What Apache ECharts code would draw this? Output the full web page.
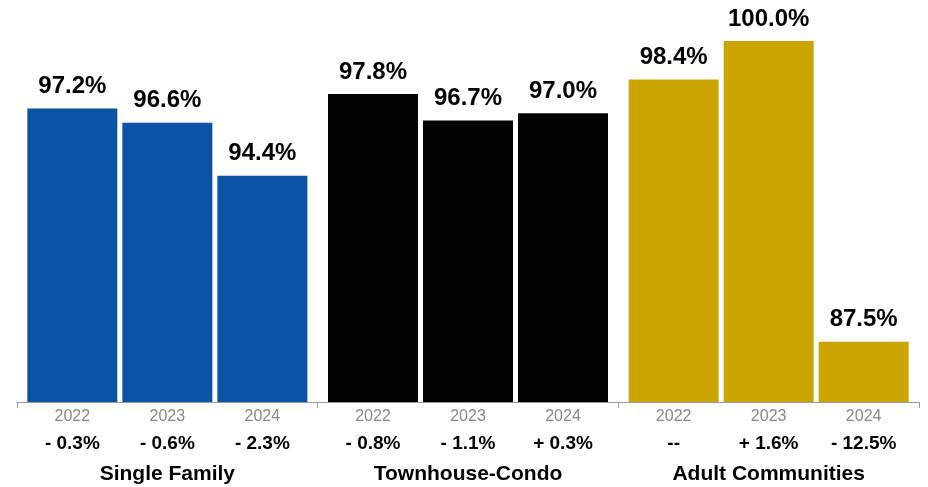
<!DOCTYPE html>
<html>
<head>
<meta charset="utf-8">
<script src="https://cdn.jsdelivr.net/npm/echarts@6/dist/echarts.min.js"></script>
<style>html,body{margin:0;padding:0;background:#fff}#c{width:928px;height:487px}</style>
</head>
<body>
<div id="c"></div>
<script>
const groups = ['Single Family', 'Townhouse-Condo', 'Adult Communities'];
const years = ['2022', '2023', '2024'];
const values2022 = [97.2, 97.8, 98.4];
const values2023 = [96.6, 96.7, 100.0];
const values2024 = [94.4, 97.0, 87.5];
const changes = [
  ['- 0.3%', '- 0.6%', '- 2.3%'],
  ['- 0.8%', '- 1.1%', '+ 0.3%'],
  ['--', '+ 1.6%', '- 12.5%']
];
const groupColors = ['#0B52A2', '#030303', '#CCA400'];

const FONT = '"Liberation Sans", Arial, Helvetica, sans-serif';
const chart = echarts.init(document.getElementById('c'), null, {renderer: 'canvas'});

const seriesValues = [values2022, values2023, values2024];
const series = seriesValues.map((vals, si) => ({
  name: years[si],
  type: 'bar',
  barWidth: 90,
  barGap: '5.56%',
  data: vals.map((v, gi) => ({value: v, itemStyle: {color: groupColors[gi]}})),
  label: {
    show: true,
    position: 'top',
    distance: 10,
    formatter: p => p.value.toFixed(1) + '%',
    fontFamily: FONT,
    fontWeight: 'bold',
    fontSize: 24,
    color: '#000'
  },
  animation: false
}));

chart.setOption({
  animation: false,
  grid: {left: 17, right: 9, top: 41, bottom: 85, containLabel: false},
  xAxis: {
    type: 'category',
    data: groups,
    axisLine: {lineStyle: {color: '#999', width: 1}},
    axisTick: {show: true, length: 6, lineStyle: {color: '#999'}},
    axisLabel: {
      margin: 4,
      interval: 0,
      formatter: (val, idx) => {
        const gi = groups.indexOf(val);
        const yr = years.map(y => '{y|' + y + '}').join('');
        const ch = changes[gi].map(c => '{c|' + c + '}').join('');
        return yr + '\n' + ch + '\n{g|' + val + '}';
      },
      rich: {
        y: {width: 95, align: 'center', fontFamily: FONT, fontSize: 16, color: '#888', lineHeight: 22},
        c: {width: 95, align: 'center', fontFamily: FONT, fontSize: 19, fontWeight: 'bold', color: '#000', lineHeight: 32},
        g: {align: 'center', fontFamily: FONT, fontSize: 21, fontWeight: 'bold', color: '#000', lineHeight: 28}
      }
    }
  },
  yAxis: {
    type: 'value',
    min: 85,
    max: 100,
    show: false,
    splitLine: {show: false}
  },
  series: series
});
</script>
</body>
</html>
